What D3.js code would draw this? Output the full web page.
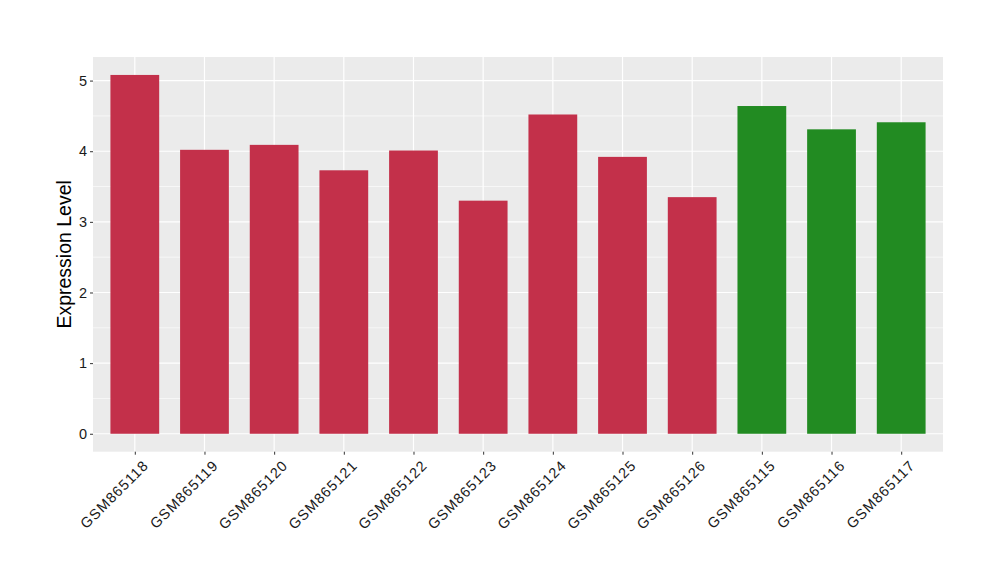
<!DOCTYPE html>
<html><head><meta charset="utf-8">
<script src="https://cdn.jsdelivr.net/npm/d3@7"></script>
<style>body{margin:0;background:#fff;}svg{display:block;font-family:"Liberation Sans",Arial,sans-serif;}</style>
</head><body>
<svg id="chart" width="1000" height="580"></svg>
<script>
const categories = ["GSM865118","GSM865119","GSM865120","GSM865121","GSM865122","GSM865123","GSM865124","GSM865125","GSM865126","GSM865115","GSM865116","GSM865117"];
const values = [5.08,4.02,4.09,3.73,4.01,3.30,4.52,3.92,3.35,4.64,4.31,4.41];
const groups = ["A","A","A","A","A","A","A","A","A","B","B","B"];
const groupColors = {A:"#C3304A", B:"#228B22"};
const yTicks = [0,1,2,3,4,5];
const yLabel = "Expression Level";

const svg = d3.select("#chart");
const m = {left:93, right:943, top:57, bottom:451.7};
const maxV = d3.max(values);
const ext = maxV*0.05;
const y = d3.scaleLinear().domain([-ext, maxV+ext]).range([m.bottom, m.top]);
const unit = (m.right-m.left)/(categories.length-1+1.2);
const xc = d3.scalePoint().domain(categories).range([m.left+0.6*unit, m.right-0.6*unit]);
const bw = 0.7*unit;

svg.append("rect").attr("x",m.left).attr("y",m.top).attr("width",m.right-m.left).attr("height",m.bottom-m.top).attr("fill","#EBEBEB");

const minor = d3.range(-0.5, maxV+ext, 1).filter(d=>d>-ext && d<maxV+ext);
svg.append("g").selectAll("line").data(minor).join("line")
  .attr("x1",m.left).attr("x2",m.right).attr("y1",d=>y(d)).attr("y2",d=>y(d))
  .attr("stroke","#fff").attr("stroke-width",0.6);
svg.append("g").selectAll("line").data(yTicks).join("line")
  .attr("x1",m.left).attr("x2",m.right).attr("y1",d=>y(d)).attr("y2",d=>y(d))
  .attr("stroke","#fff").attr("stroke-width",1.2);
svg.append("g").selectAll("line").data(categories).join("line")
  .attr("x1",d=>xc(d)).attr("x2",d=>xc(d)).attr("y1",m.top).attr("y2",m.bottom)
  .attr("stroke","#fff").attr("stroke-width",1.2);

svg.append("g").selectAll("rect").data(categories).join("rect")
  .attr("x",d=>xc(d)-bw/2).attr("width",bw)
  .attr("y",(d,i)=>y(values[i])).attr("height",(d,i)=>y(0)-y(values[i]))
  .attr("fill",(d,i)=>groupColors[groups[i]]);

const yAxis = d3.axisLeft(y).tickValues(yTicks).tickSize(3).tickPadding(3).tickFormat(d3.format("d"));
const ya = svg.append("g").attr("transform",`translate(${m.left},0)`).call(yAxis);
ya.select(".domain").remove();
ya.selectAll(".tick line").attr("stroke","#333").attr("stroke-width",1);
ya.selectAll(".tick text").attr("fill","#1a1a1a").style("font-size","14.5px");

const xAxis = d3.axisBottom(xc).tickSize(3).tickPadding(2);
const xa = svg.append("g").attr("transform",`translate(0,${m.bottom})`).call(xAxis);
xa.select(".domain").remove();
xa.selectAll(".tick line").attr("stroke","#333").attr("stroke-width",1);
xa.selectAll(".tick text").attr("fill","#1a1a1a").style("font-size","14.5px").style("letter-spacing","1px")
  .attr("text-anchor","end").attr("x",1).attr("y",0).attr("dy","0.72em")
  .attr("transform","translate(6,8) rotate(-45)");

svg.append("text").attr("transform",`translate(71,${(m.top+m.bottom)/2}) rotate(-90)`)
  .attr("text-anchor","middle").style("font-size","19.5px").attr("fill","#000").text(yLabel);
</script>
</body></html>
